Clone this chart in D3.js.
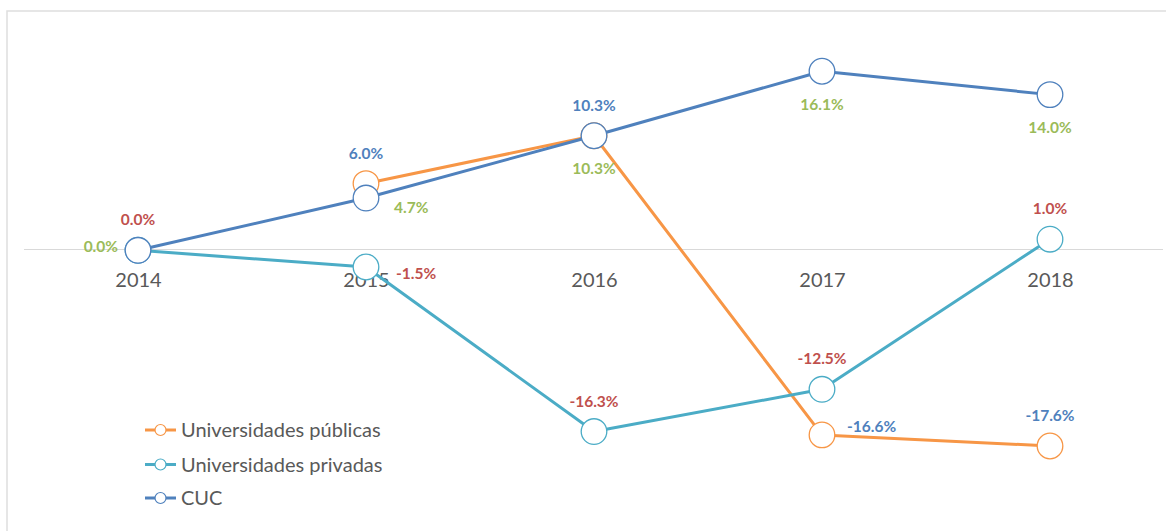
<!DOCTYPE html>
<html>
<head>
<meta charset="utf-8">
<script src="https://cdn.jsdelivr.net/npm/d3@7"></script>
<style>
  html, body { margin: 0; padding: 0; background: #ffffff; }
  svg { display: block; }
</style>
</head>
<body>
<svg id="chart" width="1166" height="531"></svg>
<script>
// ---- data ----
const years = ["2014", "2015", "2016", "2017", "2018"];
const seriesNames = ["Universidades públicas", "Universidades privadas", "CUC"];
const publicas = [null, 6.0, 10.3, -16.6, -17.6];
const privadas = [0.0, -1.5, -16.3, -12.5, 1.0];
const cuc = [0.0, 4.7, 10.3, 16.1, 14.0];

// ---- label placement (layout only) ----
const publicasLabelPos = [null, "above", "above", "right", "above"];
const privadasLabelPos = ["above", "right", "above", "above", "above"];
const cucLabelPos = ["left", "right", "below", "below", "below"];
const labelNudge = { "0-3": [25, -3], "1-1": [30, 12], "2-1": [28, 15] };

// ---- styles ----
const lineColors = ["#F79646", "#4BACC6", "#4F81BD"];
const labelColors = ["#4F81BD", "#C0504D", "#9BBB59"];

const series = [publicas, privadas, cuc].map((vals, i) => ({
  name: seriesNames[i],
  values: vals,
  labelPos: [publicasLabelPos, privadasLabelPos, cucLabelPos][i],
  color: lineColors[i],
  labelColor: labelColors[i],
  idx: i
}));

const svg = d3.select("#chart");
const W = 1166, H = 531;

svg.append("rect").attr("width", W).attr("height", H).attr("fill", "#ffffff");
// chart border
svg.append("rect")
  .attr("x", 7).attr("y", 11).attr("width", W + 20).attr("height", H + 20)
  .attr("fill", "none").attr("stroke", "#DEDEDE").attr("stroke-width", 1.5);

const x = d3.scalePoint().domain(years).range([24, 1164]).padding(0.5);
const y = d3.scaleLinear().domain([-20, 20]).range([250.3 + 222.4, 250.3 - 222.4]);

// category axis at zero
const axisY = Math.round(y(0)) - 0.5;
const xAxis = d3.axisBottom(x).tickSize(0).tickPadding(0);
const gAxis = svg.append("g").attr("transform", `translate(0,${axisY})`).call(xAxis);
gAxis.select(".domain").attr("stroke", "#D9D9D9").attr("stroke-width", 1)
  .attr("d", `M24,0H1163`);
gAxis.selectAll(".tick text")
  .attr("y", 37.5).attr("dy", null)
  .attr("font-family", "Lato, 'Open Sans', sans-serif")
  .attr("font-size", 20)
  .attr("fill", "#595959");

const line = d3.line()
  .defined(d => d !== null)
  .x((d, i) => x(years[i]))
  .y(d => y(d));

series.forEach(s => {
  const g = svg.append("g");
  g.append("path")
    .attr("d", line(s.values))
    .attr("fill", "none")
    .attr("stroke", s.color)
    .attr("stroke-width", 3)
    .attr("stroke-linejoin", "round");
  const pts = s.values.map((v, i) => ({ v, i })).filter(d => d.v !== null);
  g.selectAll("circle").data(pts).join("circle")
    .attr("cx", d => x(years[d.i]))
    .attr("cy", d => y(d.v))
    .attr("r", 12.8)
    .attr("fill", "#ffffff")
    .attr("stroke", s.color)
    .attr("stroke-width", 1.3);
});

// data labels
const fmt = v => v.toFixed(1) + "%";
series.forEach(s => {
  const g = svg.append("g")
    .attr("font-family", "Lato, 'Open Sans', sans-serif")
    .attr("font-weight", "bold")
    .attr("font-size", 15.5)
    .attr("fill", s.labelColor);
  s.values.forEach((v, i) => {
    const pos = s.labelPos[i];
    if (!pos || v === null) return;
    const cx = x(years[i]), cy = y(v);
    let tx = cx, ty = cy, anchor = "middle";
    if (pos === "above") { ty = cy - 25; }
    else if (pos === "below") { ty = cy + 38.5; }
    else if (pos === "left") { tx = cx - 20; ty = cy + 1.5; anchor = "end"; }
    else if (pos === "right") {
      const n = labelNudge[s.idx + "-" + i] || [20, 5];
      tx = cx + n[0]; ty = cy + n[1]; anchor = "start";
    }
    g.append("text")
      .attr("x", tx).attr("y", ty)
      .attr("text-anchor", anchor)
      .text(fmt(v));
  });
});

// legend
const legendY = [430, 464.5, 498];
const legend = svg.append("g");
series.forEach((s, i) => {
  const row = legend.append("g").attr("transform", `translate(0,${legendY[i]})`);
  row.append("line").attr("x1", 145).attr("x2", 176).attr("y1", 0).attr("y2", 0)
    .attr("stroke", s.color).attr("stroke-width", 3);
  row.append("circle").attr("cx", 160.5).attr("cy", 0).attr("r", 5.5)
    .attr("fill", "#ffffff").attr("stroke", s.color).attr("stroke-width", 1.2);
  row.append("text").attr("x", 181).attr("y", 7)
    .attr("font-family", "Lato, 'Open Sans', sans-serif")
    .attr("font-size", 20)
    .attr("fill", "#595959")
    .text(s.name);
});
</script>
</body>
</html>
